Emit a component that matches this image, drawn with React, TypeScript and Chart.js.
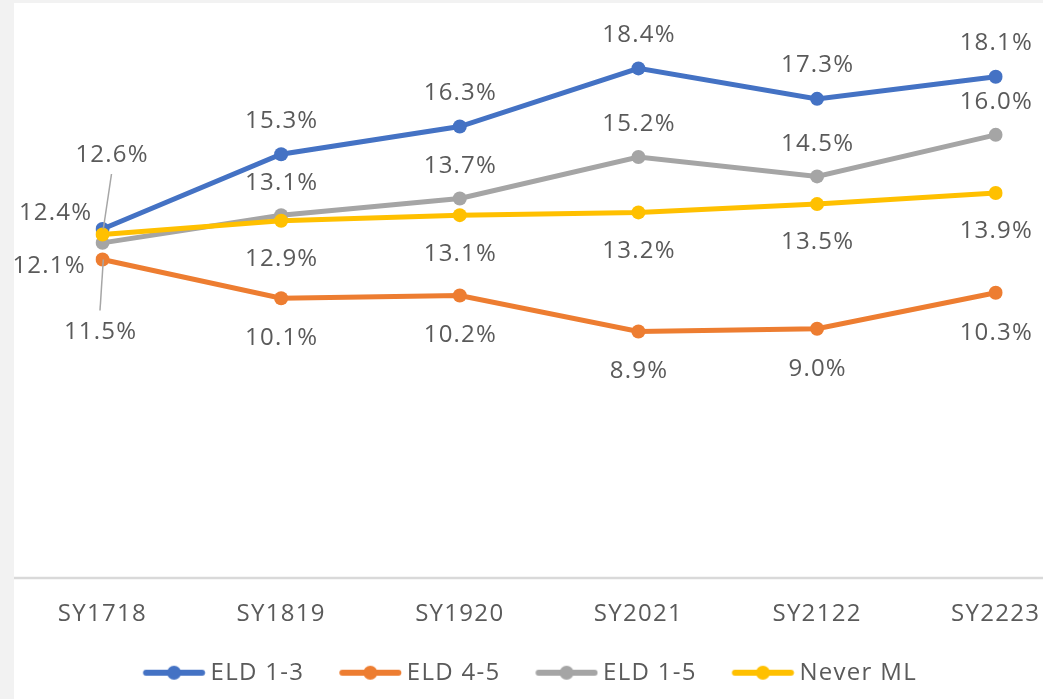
import React, { useEffect, useRef } from "react";
import { Chart, registerables } from "chart.js";

Chart.register(...registerables);

// ---- data ----
const categories = ["SY1718", "SY1819", "SY1920", "SY2021", "SY2122", "SY2223"];
const eld13 = [12.6, 15.3, 16.3, 18.4, 17.3, 18.1];
const eld45 = [11.5, 10.1, 10.2, 8.9, 9.0, 10.3];
const eld15 = [12.1, 13.1, 13.7, 15.2, 14.5, 16.0];
const neverML = [12.4, 12.9, 13.1, 13.2, 13.5, 13.9];
const seriesNames = ["ELD 1-3", "ELD 4-5", "ELD 1-5", "Never ML"];
const seriesColors = ["#4472C4", "#ED7D31", "#A5A5A5", "#FFC000"];
const yMin = 0;
const yMax = 20;

// ---- label placement (styling) ----
const labelDy = [-35, 38.5, -34, 37];
const firstLabel = [
  { dx: 9, dy: -75, leader: true },
  { dx: -2.5, dy: 71, leader: true },
  { dx: -54, dy: 21.6, leader: false },
  { dx: -47.5, dy: -23.3, leader: false },
];

const FONT = "'Open Sans', 'Noto Sans', sans-serif";
const TEXT = "#5a5a5a";

function makeLegendImage(color: string): HTMLCanvasElement {
  const c = document.createElement("canvas");
  c.width = 70;
  c.height = 18;
  const g = c.getContext("2d")!;
  const a = 7.25;
  g.strokeStyle = color;
  g.lineWidth = 6;
  g.lineCap = "round";
  g.beginPath();
  g.moveTo(a + 3, 9);
  g.lineTo(a + 59, 9);
  g.stroke();
  g.fillStyle = color;
  g.beginPath();
  g.arc(a + 31, 9, 7, 0, Math.PI * 2);
  g.fill();
  return c;
}

const bgPlugin = {
  id: "bgPlugin",
  beforeUpdate(chart: any) {
    chart.ctx.letterSpacing = "1.3px";
  },
  beforeDraw(chart: any) {
    const { ctx, width, height } = chart;
    ctx.save();
    ctx.fillStyle = "#f2f2f2";
    ctx.fillRect(0, 0, width, height);
    ctx.fillStyle = "#ffffff";
    ctx.fillRect(14, 3, width - 14, height - 3);
    ctx.restore();
  },
  beforeDatasetsDraw(chart: any) {
    const { ctx, width } = chart;
    const y0 = chart.scales.y.getPixelForValue(0);
    ctx.save();
    ctx.strokeStyle = "#d9d9d9";
    ctx.lineWidth = 2.5;
    ctx.beginPath();
    ctx.moveTo(14, y0);
    ctx.lineTo(width, y0);
    ctx.stroke();
    ctx.restore();
  },
};

const labelPlugin = {
  id: "labelPlugin",
  afterDatasetsDraw(chart: any) {
    const { ctx } = chart;
    ctx.save();
    ctx.letterSpacing = "1.2px";
    ctx.font = `24px ${FONT}`;
    ctx.fillStyle = TEXT;
    ctx.textAlign = "center";
    ctx.textBaseline = "middle";
    chart.data.datasets.forEach((ds: any, di: number) => {
      const meta = chart.getDatasetMeta(di);
      meta.data.forEach((pt: any, i: number) => {
        const v = ds.data[i] as number;
        let dx = 0;
        let dy = labelDy[di];
        let leader = false;
        if (i === 0) {
          dx = firstLabel[di].dx;
          dy = firstLabel[di].dy;
          leader = firstLabel[di].leader;
        }
        const lx = pt.x + dx;
        const ly = pt.y + dy;
        if (leader) {
          ctx.save();
          ctx.strokeStyle = "#a6a6a6";
          ctx.lineWidth = 1.5;
          ctx.beginPath();
          ctx.moveTo(lx, ly + (dy < 0 ? 20 : -20));
          ctx.lineTo(pt.x + 0.8, pt.y);
          ctx.stroke();
          ctx.restore();
        }
        ctx.fillText(v.toFixed(1) + "%", lx + 0.6, ly + 1.5);
      });
    });
    ctx.restore();
  },
};

export default function App() {
  const ref = useRef<HTMLCanvasElement | null>(null);

  useEffect(() => {
    if (!ref.current) return;
    const legendImgs = seriesColors.map((c) => makeLegendImage(c));
    const seriesData = [eld13, eld45, eld15, neverML];
    const drawOrder = [4, 3, 2, 1];
    const chart = new Chart(ref.current, {
      type: "line",
      data: {
        labels: categories,
        datasets: seriesData.map((d, i) => ({
          label: seriesNames[i],
          data: d,
          borderColor: seriesColors[i],
          backgroundColor: seriesColors[i],
          borderWidth: 5,
          pointRadius: 7,
          pointBorderWidth: 0,
          pointBackgroundColor: seriesColors[i],
          tension: 0,
          fill: false,
          order: drawOrder[i],
          yAxisID: "y",
        })),
      },
      options: {
        animation: false,
        responsive: false,
        devicePixelRatio: 1,
        layout: { padding: { top: 24.1, left: 17, right: 0, bottom: 4.3 } },
        scales: {
          x: {
            type: "category",
            offset: false,
            grid: { display: false, drawTicks: false },
            border: { display: false },
            ticks: {
              color: TEXT,
              font: { family: FONT, size: 24 },
              padding: 22,
              maxRotation: 0,
              autoSkip: false,
            },
            afterFit: (s: any) => {
              s.height = 47.8;
              s.paddingLeft = 0;
              s.paddingRight = 0;
            },
          },
          y: {
            type: "linear",
            min: yMin,
            max: yMax,
            display: true,
            grid: { display: false, drawTicks: false },
            border: { display: false },
            ticks: { display: false },
            afterFit: (s: any) => {
              s.width = 85.5;
            },
          },
          yR: {
            type: "linear",
            position: "right",
            display: true,
            grid: { display: false, drawTicks: false },
            border: { display: false },
            ticks: { display: false },
            afterFit: (s: any) => {
              s.width = 47.3;
            },
          },
        },
        plugins: {
          tooltip: { enabled: false },
          legend: {
            position: "bottom",
            labels: {
              usePointStyle: true,
              pointStyleWidth: 55.5,
              color: TEXT,
              font: { family: FONT, size: 24 },
              padding: 35,
              generateLabels: (ch: any) =>
                ch.data.datasets.map((ds: any, i: number) => ({
                  text: ds.label,
                  pointStyle: legendImgs[i],
                  fillStyle: seriesColors[i],
                  strokeStyle: seriesColors[i],
                  lineWidth: 0,
                  hidden: false,
                  datasetIndex: i,
                  fontColor: TEXT,
                })),
            },
          },
        },
      },
      plugins: [bgPlugin, labelPlugin],
    });
    return () => chart.destroy();
  }, []);

  return (
    <div
      style={{
        position: "fixed",
        left: 0,
        top: 0,
        width: 1043,
        height: 699,
        overflow: "hidden",
        background: "#f2f2f2",
      }}
    >
      <canvas ref={ref} width={1043} height={699} style={{ width: 1043, height: 699, display: "block" }} />
    </div>
  );
}
